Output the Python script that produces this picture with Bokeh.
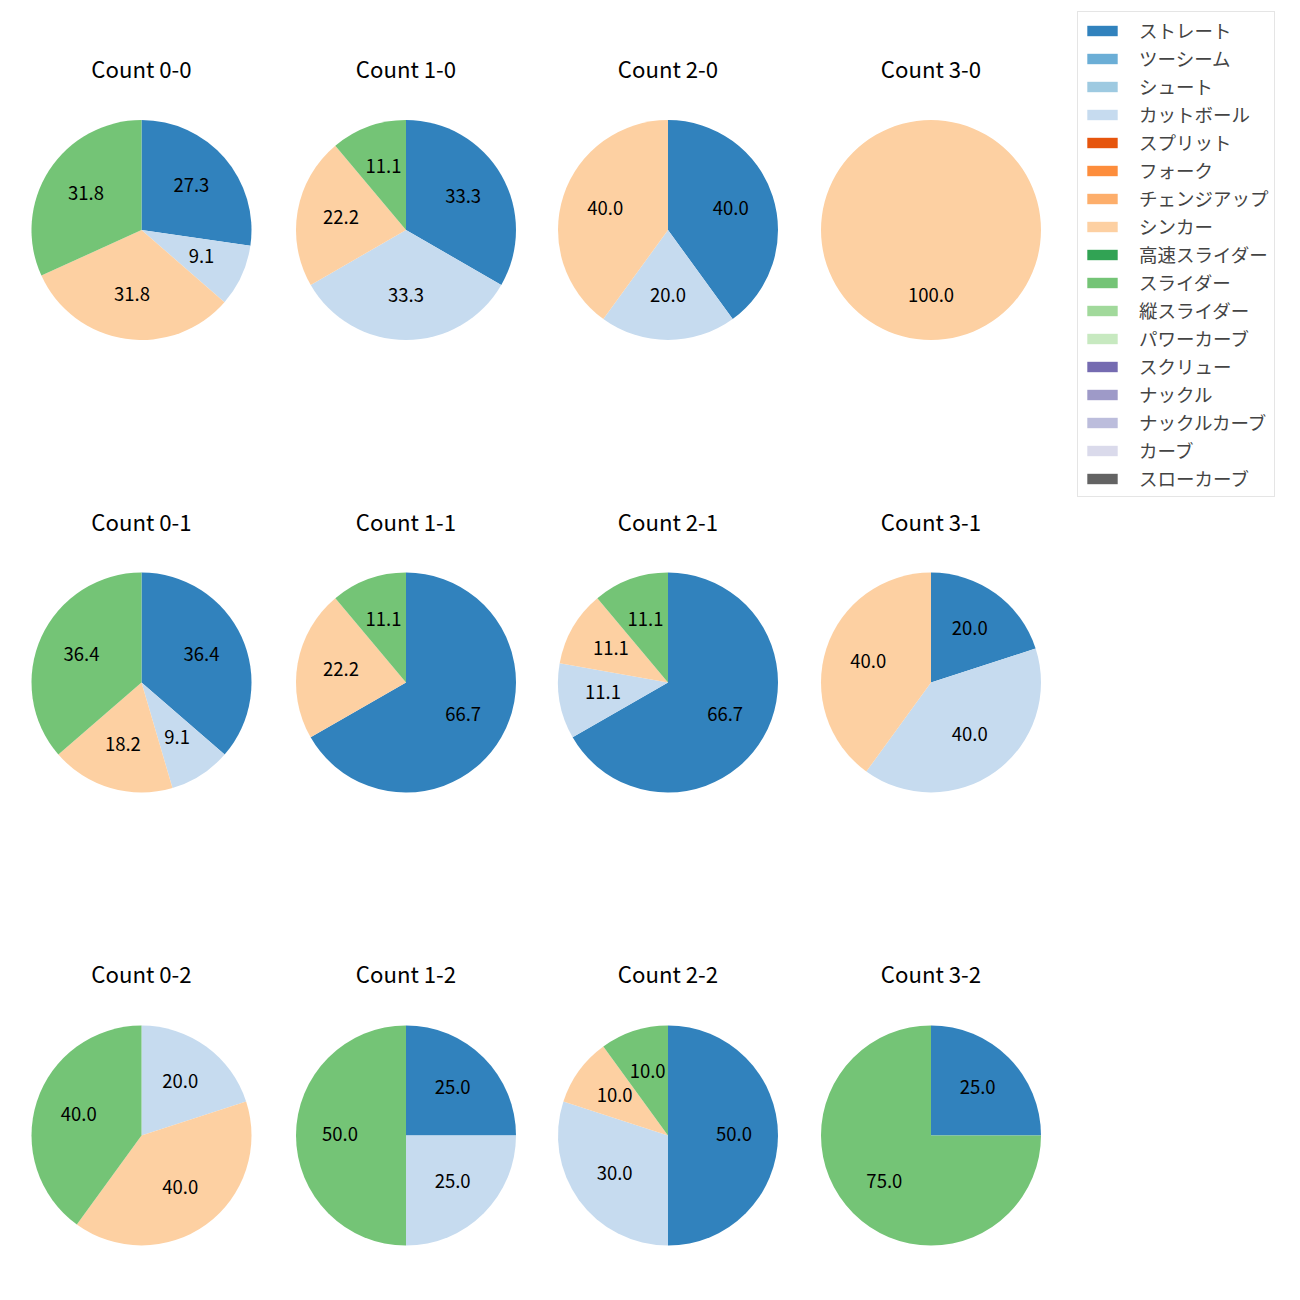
import numpy as np
from bokeh.plotting import figure
from bokeh.models import Range1d, ColumnDataSource, Legend, LegendItem
from bokeh.core.properties import value
from bokeh.embed import file_html
from bokeh.resources import INLINE

pitch_types = ["ストレート", "ツーシーム", "シュート", "カットボール", "スプリット", "フォーク",
               "チェンジアップ", "シンカー", "高速スライダー", "スライダー", "縦スライダー",
               "パワーカーブ", "スクリュー", "ナックル", "ナックルカーブ", "カーブ", "スローカーブ"]
colors = ["#3182bd", "#6baed6", "#9ecae1", "#c6dbef", "#e6550d", "#fd8d3c", "#fdae6b",
          "#fdd0a2", "#31a354", "#74c476", "#a1d99b", "#c7e9c0", "#756bb1", "#9e9ac8",
          "#bcbddc", "#dadaeb", "#636363"]

counts = ["0-0", "1-0", "2-0", "3-0",
          "0-1", "1-1", "2-1", "3-1",
          "0-2", "1-2", "2-2", "3-2"]

# percentage share per count (same order as counts)
straight = [27.3, 33.3, 40.0, 0.0, 36.4, 66.7, 66.7, 20.0, 0.0, 25.0, 50.0, 25.0]
cutter = [9.1, 33.3, 20.0, 0.0, 9.1, 0.0, 11.1, 40.0, 20.0, 25.0, 30.0, 0.0]
sinker = [31.8, 22.2, 40.0, 100.0, 18.2, 22.2, 11.1, 40.0, 40.0, 0.0, 10.0, 0.0]
slider = [31.8, 11.1, 0.0, 0.0, 36.4, 11.1, 11.1, 0.0, 40.0, 50.0, 10.0, 75.0]

series = {"ストレート": straight, "カットボール": cutter, "シンカー": sinker, "スライダー": slider}

FONT = "Noto Sans CJK JP"
W = H = 1300

def fy(ref_y):
    return H - ref_y

col_x = [141, 405.5, 667.5, 930.5]
row_y = [229.5, 682, 1135]
title_y = [67, 520, 972]
R = 110

p = figure(width=W, height=H, x_range=Range1d(0, W), y_range=Range1d(0, H),
           x_axis_type=None, y_axis_type=None, toolbar_location=None,
           output_backend="svg", min_border=0, outline_line_color=None)
p.grid.visible = False
p.background_fill_color = "white"
p.border_fill_color = "white"

wx, wy, ws, we, wc = [], [], [], [], []
lx, ly, lt = [], [], []
tx, ty, tt = [], [], []

for i, cnt in enumerate(counts):
    r, c = divmod(i, 4)
    cx, cy = col_x[c], fy(row_y[r])
    vals = np.array([series.get(pt, [0.0] * 12)[i] for pt in pitch_types], dtype=float)
    total = vals.sum()
    cum = 0.0
    for k, v in enumerate(vals):
        if v <= 0:
            continue
        frac0 = cum / total
        frac1 = (cum + v) / total
        cum += v
        a_start = np.pi / 2 - frac1 * 2 * np.pi
        a_end = np.pi / 2 - frac0 * 2 * np.pi
        if a_end - a_start >= 2 * np.pi - 1e-9:
            a_start += 1e-4
        wx.append(cx); wy.append(cy); ws.append(a_start); we.append(a_end); wc.append(colors[k])
        mid = (a_start + a_end) / 2
        lx.append(cx + 0.6 * R * np.cos(mid))
        ly.append(cy + 0.6 * R * np.sin(mid) + 1.5)
        lt.append("%.1f" % (v / total * 100))
    tx.append(cx); ty.append(fy(title_y[r])); tt.append("Count " + cnt)

p.wedge(x="x", y="y", radius=R, start_angle="s", end_angle="e", fill_color="c",
        line_color=None, direction="anticlock",
        source=ColumnDataSource(dict(x=wx, y=wy, s=ws, e=we, c=wc)))
p.text(x="x", y="y", text="t", source=ColumnDataSource(dict(x=lx, y=ly, t=lt)),
       text_align="center", text_baseline="middle", text_font=value(FONT),
       text_font_size="18.5px", text_color="black")
p.text(x="x", y="y", text="t", source=ColumnDataSource(dict(x=tx, y=ty, t=tt)),
       text_align="center", text_baseline="middle", text_font=value(FONT),
       text_font_size="22.2px", text_color="black")

items = []
for name, colr in zip(pitch_types, colors):
    rr = p.rect(x=[np.nan], y=[np.nan], width=1, height=1, fill_color=colr, line_color=None)
    items.append(LegendItem(label=name, renderers=[rr]))

LEG_H = 482
legend = Legend(items=items, location=(1077, H - 15 - LEG_H),
                glyph_width=38, glyph_height=13, label_height=20, spacing=2,
                padding=5, margin=0, label_standoff=18,
                label_text_font=FONT, label_text_font_size="18.5px",
                border_line_color="#cccccc", border_line_width=1,
                background_fill_color="white", background_fill_alpha=0.8)
p.add_layout(legend, "center")

open("out.html", "w").write(file_html(p, INLINE))
